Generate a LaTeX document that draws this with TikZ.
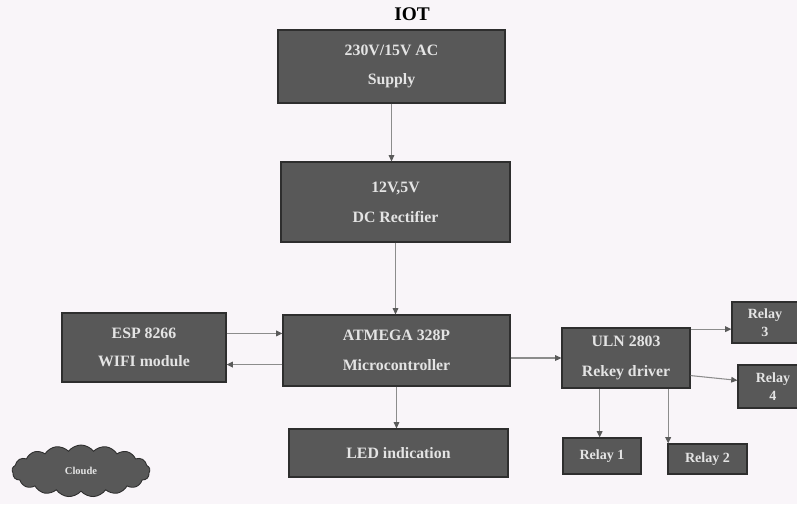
\documentclass[tikz,border=0pt]{standalone}
\usepackage{fontspec}
\setmainfont{Liberation Serif}
\usetikzlibrary{arrows.meta,shapes.symbols}

\definecolor{paper}{HTML}{F9F5F9}
\definecolor{boxfill}{HTML}{585858}
\definecolor{boxline}{HTML}{2E2E2E}
\definecolor{boxtext}{HTML}{E4E4E4}
\definecolor{wirecol}{HTML}{8C8C8C}
\definecolor{tipcol}{HTML}{5A5A5A}

\tikzset{
  blk/.style 2 args={draw=boxline, fill=boxfill, text=boxtext, line width=0.7pt,
    minimum width=#1*0.02cm, minimum height=#2*0.02cm, inner sep=0pt,
    align=center, font=\fontsize{9}{11}\selectfont\bfseries},
  relaybox/.style 2 args={blk={#1}{#2}, font=\fontsize{8}{9}\selectfont\bfseries},
  wire/.style={draw=wirecol, line width=0.6pt,
    -{Triangle[length=3.5pt,width=3.2pt,color=tipcol]}}
}

\begin{document}
\begin{tikzpicture}[x=0.02cm, y=-0.02cm]

    % page
    \fill[paper] (0,0) rectangle (797,504);
    \useasboundingbox (0,0) rectangle (797,504);

    % title
    \node[font=\fontsize{11}{13}\selectfont\bfseries] (iot) at (412,14) {IOT};

    % blocks
    \node[blk={227}{73}] (supply) at (391.5,66.5) {230V/15V AC\\[5pt]Supply};
    \node[blk={229}{80}] (rect) at (395.5,202) {12V,5V\\[6pt]DC Rectifier};
    \node[blk={227}{71}] (mcu) at (396.5,350.5) {ATMEGA 328P\\[6pt]Microcontroller};
    \node[blk={164}{69}] (esp) at (144,347.5) {ESP 8266\\[5pt]WIFI module};
    \node[blk={219}{48}] (led) at (398.5,453) {LED indication};
    \node[blk={128}{60}] (uln) at (626,358) {ULN 2803\\[6pt]Rekey driver};

    % relays
    \node[relaybox={66}{41}] (relay3) at (765,322.5) {Relay\\[1pt]3};
    \node[relaybox={70}{43}] (relay4) at (773,386.5) {Relay\\[1pt]4};
    \node[relaybox={78}{36}] (relay1) at (602,456) {Relay 1};
    \node[relaybox={79}{30}] (relay2) at (707.5,459) {Relay 2};

    % cloud
    \node[cloud, cloud puffs=17, cloud puff arc=105, aspect=2.6, draw=boxline, fill=boxfill,
      text=boxtext, line width=0.5pt, minimum width=138*0.02cm, minimum height=52*0.02cm,
      inner sep=0pt, font=\fontsize{6}{7}\selectfont\bfseries] (cloude) at (81,471) {Cloude};

    % paths
    \draw[wire] (supply.south) -- (supply.south |- rect.north); % supply -> rectifier
    \draw[wire] (rect.south) -- (rect.south |- mcu.north); % rectifier -> mcu
    \draw[wire] (mcu.south) -- (mcu.south |- led.north); % mcu -> led
    \draw[wire] ([yshift=8pt]esp.east) -- ([yshift=8pt]esp.east -| mcu.west); % esp -> mcu
    \draw[wire] ([yshift=-8pt]mcu.west) -- ([yshift=-8pt]mcu.west -| esp.east); % mcu -> esp
    \draw[wire] (uln.west -| mcu.east) -- (uln.west); % mcu -> uln
    \draw[wire] ([yshift=-1pt]uln.north east) -- ([yshift=-1pt]uln.north east -| relay3.west); % uln -> relay 3
    \draw[wire] ([yshift=-10pt]uln.east) -- ([yshift=3.5pt]relay4.west); % uln -> relay 4
    \draw[wire] ([xshift=-15pt]uln.south) -- ([xshift=-15pt]uln.south |- relay1.north); % uln -> relay 1
    \draw[wire] ([xshift=24pt]uln.south) -- ([xshift=24pt]uln.south |- relay2.north); % uln -> relay 2

\end{tikzpicture}
\end{document}
